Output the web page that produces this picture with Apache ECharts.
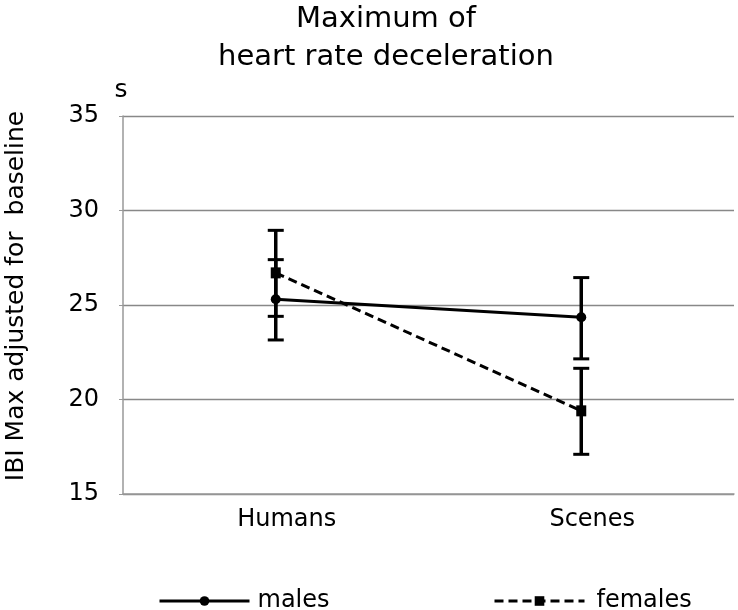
<!DOCTYPE html>
<html>
<head>
<meta charset="utf-8">
<script src="https://cdn.jsdelivr.net/npm/echarts@6/dist/echarts.min.js"></script>
<style>html,body{margin:0;padding:0;background:#fff;}#chart{width:738px;height:610px;}</style>
</head>
<body>
<div id="chart"></div>
<script>
var categories = ['Humans', 'Scenes'];
var malesMean = [25.3, 24.35];
var malesLow = [23.15, 22.15];
var malesHigh = [27.4, 26.45];
var femalesMean = [26.7, 19.4];
var femalesLow = [24.4, 17.1];
var femalesHigh = [28.95, 21.65];
var yTicks = {min: 15, max: 35, interval: 5};

var FONT = 'DejaVu Sans';
function errData(lo, hi) {
  return categories.map(function (c, i) { return [i, lo[i], hi[i]]; });
}
function renderErr(params, api) {
  var x = api.value(0);
  var top = api.coord([x, api.value(2)]);
  var bot = api.coord([x, api.value(1)]);
  var half = 8;
  var st = {stroke: '#000', lineWidth: 3};
  return {
    type: 'group',
    children: [
      {type: 'line', shape: {x1: top[0], y1: top[1], x2: bot[0], y2: bot[1]}, style: {stroke: '#000', lineWidth: 3.5}},
      {type: 'line', shape: {x1: top[0] - half, y1: top[1], x2: top[0] + half, y2: top[1]}, style: st},
      {type: 'line', shape: {x1: bot[0] - half, y1: bot[1], x2: bot[0] + half, y2: bot[1]}, style: st}
    ]
  };
}

var legendText = {fontFamily: FONT, fontSize: 24, color: '#000'};
var chart = echarts.init(document.getElementById('chart'));
chart.setOption({
  animation: false,
  backgroundColor: '#fff',
  textStyle: {fontFamily: FONT, color: '#000'},
  title: {
    text: 'Maximum of\nheart rate deceleration',
    left: 386, top: 0, textAlign: 'center', padding: 0,
    textStyle: {fontFamily: FONT, fontSize: 29, fontWeight: 'normal', color: '#000', lineHeight: 38}
  },
  graphic: [
    {type: 'text', x: 121, y: 90, style: {text: 's', font: '25px ' + FONT, fill: '#000', textAlign: 'center', textVerticalAlign: 'middle'}},
    {type: 'text', x: 16, y: 296, rotation: Math.PI / 2, style: {text: 'IBI Max adjusted for  baseline', font: '25px ' + FONT, fill: '#000', textAlign: 'center', textVerticalAlign: 'middle'}}
  ],
  legend: [
    {left: 153, top: 584, itemWidth: 90, itemHeight: 12, lineStyle: {width: 3}, textStyle: Object.assign({padding: [0, 0, 0, 3]}, legendText), data: ['males']},
    {left: 488, top: 584, itemWidth: 90, itemHeight: 12, lineStyle: {width: 3}, textStyle: Object.assign({padding: [0, 0, 0, 7]}, legendText), data: ['females']}
  ],
  grid: {left: 123, right: 4, top: 116, bottom: 116, containLabel: false},
  xAxis: {
    type: 'category', data: categories, boundaryGap: true,
    axisLine: {lineStyle: {color: '#999', width: 1.5}},
    axisTick: {show: false},
    axisLabel: {fontFamily: FONT, fontSize: 24, color: '#000', margin: 14, padding: [0, 0, 0, 22]}
  },
  yAxis: {
    type: 'value', min: yTicks.min, max: yTicks.max, interval: yTicks.interval,
    axisLine: {show: true, lineStyle: {color: '#999', width: 1.5}},
    axisTick: {show: true, inside: false, length: 4, lineStyle: {color: '#999'}},
    axisLabel: {fontFamily: FONT, fontSize: 24, color: '#000', margin: 24},
    splitLine: {show: true, lineStyle: {color: '#888', width: 1.3}}
  },
  series: [
    {type: 'custom', name: 'malesErr', renderItem: renderErr, data: errData(malesLow, malesHigh), z: 3, silent: true},
    {type: 'custom', name: 'femalesErr', renderItem: renderErr, data: errData(femalesLow, femalesHigh), z: 3, silent: true},
    {
      type: 'line', name: 'males', data: malesMean,
      symbol: 'circle', symbolSize: 10,
      lineStyle: {color: '#000', width: 3},
      itemStyle: {color: '#000'}, z: 4
    },
    {
      type: 'line', name: 'females', data: femalesMean,
      symbol: 'rect', symbolSize: [10, 11],
      lineStyle: {color: '#000', width: 3, type: [9, 5]},
      itemStyle: {color: '#000'}, z: 4
    }
  ]
});
</script>
</body>
</html>
